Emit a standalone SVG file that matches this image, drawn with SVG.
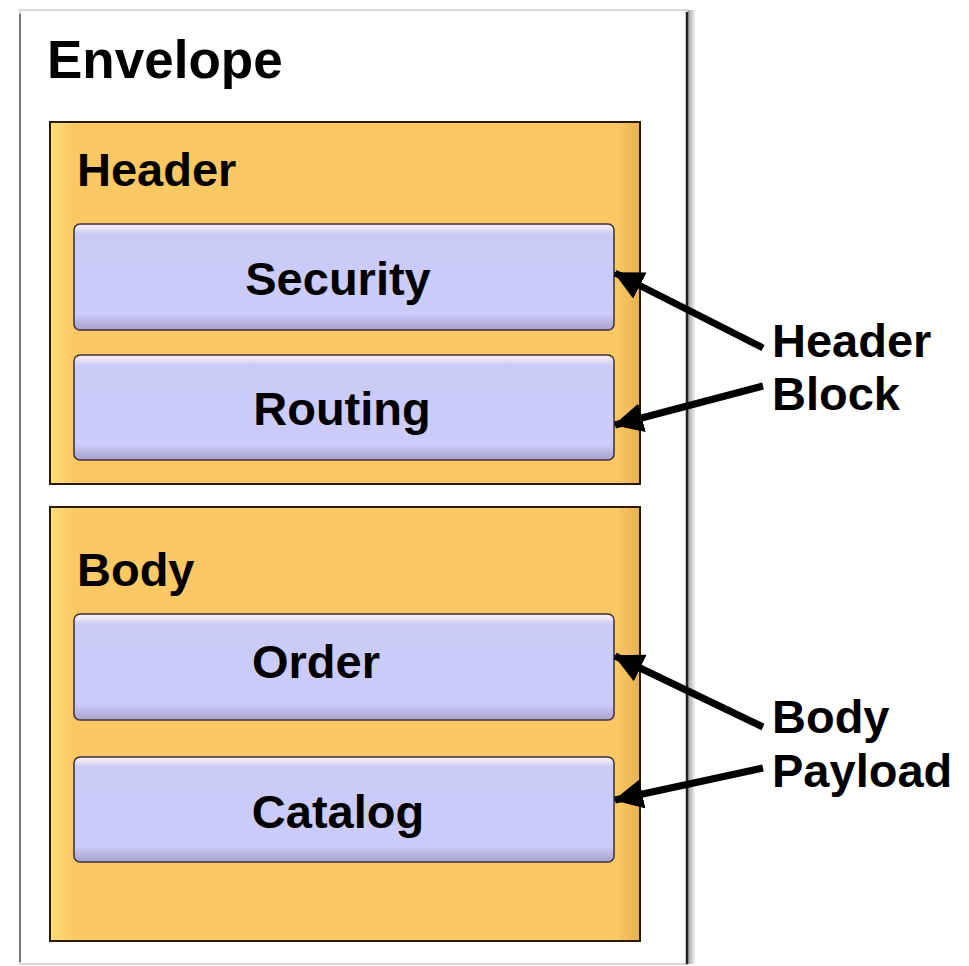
<svg xmlns="http://www.w3.org/2000/svg" width="969" height="966" viewBox="0 0 969 966">
<style>
text{font-family:"Liberation Sans",Arial,sans-serif;font-weight:bold;fill:#000}
.big{font-size:53px}
.lbl{font-size:47px}
.sec{fill:url(#gOr);stroke:#2a1a00;stroke-width:2}
.item{fill:url(#gLav);stroke:#3a3040;stroke-width:1.5}
.conn{stroke:#000;stroke-width:7;fill:none;marker-end:url(#ah)}
</style>
<defs>
<linearGradient id="gOr" x1="0" y1="0" x2="1" y2="0">
<stop offset="0" stop-color="#FCE07A"/>
<stop offset="0.04" stop-color="#FBC864"/>
<stop offset="0.96" stop-color="#FBC864"/>
<stop offset="1" stop-color="#E8B050"/>
</linearGradient>
<linearGradient id="gLav" x1="0" y1="0" x2="0" y2="1">
<stop offset="0" stop-color="#FFF4F0"/>
<stop offset="0.1" stop-color="#CACAF6"/>
<stop offset="0.85" stop-color="#CCCCFC"/>
<stop offset="1" stop-color="#A8A0C8"/>
</linearGradient>
<linearGradient id="gEnvR" x1="0" y1="0" x2="1" y2="0">
<stop offset="0" stop-color="#444"/>
<stop offset="1" stop-color="#fff"/>
</linearGradient>
<marker id="ah" viewBox="0 0 10 10" refX="9.5" refY="5" markerWidth="4.2" markerHeight="4.2" orient="auto" markerUnits="strokeWidth">
<path d="M0,0 L10,5 L0,10 Z" fill="#000"/>
</marker>
</defs>
<rect width="969" height="966" fill="#fff"/>
<g id="envelope">
<rect x="20" y="10" width="667" height="954" fill="#fff" stroke="#d8d8d8" stroke-width="2"/>
<line x1="20" y1="14" x2="20" y2="962" stroke="#777" stroke-width="2"/>
<rect x="688" y="10" width="8" height="954" fill="url(#gEnvR)" opacity="0.5"/>
<line x1="687" y1="12" x2="687" y2="964" stroke="#222" stroke-width="2.5"/>
<text class="big" x="47" y="78">Envelope</text>
</g>
<g id="header">
<rect class="sec" x="50" y="122" width="590" height="362"/>
<text class="lbl" x="77" y="186">Header</text>
</g>
<g id="security">
<rect class="item" x="74" y="224" width="540" height="106" rx="6"/>
<text class="lbl" x="338" y="295" text-anchor="middle">Security</text>
</g>
<g id="routing">
<rect class="item" x="74" y="355" width="540" height="105" rx="6"/>
<text class="lbl" x="342" y="425" text-anchor="middle">Routing</text>
</g>
<g id="body">
<rect class="sec" x="50" y="507" width="590" height="434"/>
<text class="lbl" x="77" y="586">Body</text>
</g>
<g id="order">
<rect class="item" x="74" y="614" width="540" height="106" rx="6"/>
<text class="lbl" x="316" y="678" text-anchor="middle">Order</text>
</g>
<g id="catalog">
<rect class="item" x="74" y="757" width="540" height="105" rx="6"/>
<text class="lbl" x="338" y="828" text-anchor="middle">Catalog</text>
</g>
<g id="header-block-label">
<text class="lbl" x="772" y="357">Header</text>
<text class="lbl" x="772" y="410">Block</text>
</g>
<g id="body-payload-label">
<text class="lbl" x="772" y="733">Body</text>
<text class="lbl" x="772" y="787">Payload</text>
</g>
<g id="connectors">
<line class="conn" x1="763" y1="348" x2="615" y2="273"/>
<line class="conn" x1="763" y1="386" x2="615" y2="425"/>
<line class="conn" x1="763" y1="727" x2="615" y2="656"/>
<line class="conn" x1="763" y1="768" x2="615" y2="800"/>
</g>
</svg>
